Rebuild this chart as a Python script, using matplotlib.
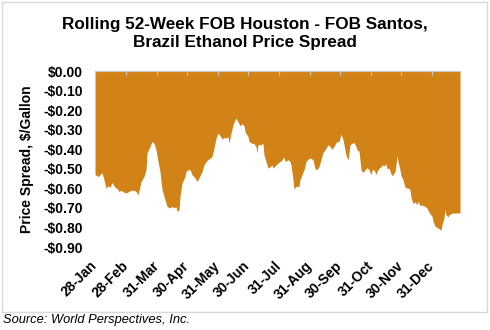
import numpy as np
import pandas as pd
import matplotlib
matplotlib.use('Agg')
import matplotlib.pyplot as plt
from matplotlib.patches import Rectangle

plt.rcParams['font.family'] = ['Liberation Sans', 'DejaVu Sans']

# days after 28-Jan and the spread in $/gallon
start = '2018-01-28'
days = [0, 3, 5, 7, 9, 11, 13, 15, 17, 20, 22, 24, 26, 29, 31, 34, 36, 39, 41, 43,
        45, 46, 49, 51, 52, 55, 57, 59, 61, 63, 65, 67, 70, 72, 75, 77, 79, 81, 82, 84,
        85, 87, 90, 91,
        93, 95, 97, 100, 102, 104, 107, 109, 112, 114, 117, 119, 121, 123, 125, 127, 129, 131, 133, 134,
        136, 138, 140, 141, 143, 145, 147, 149, 150, 153, 154, 157, 159, 161, 162, 163, 166, 168, 169, 171,
        173, 175, 177, 178, 181, 183,
        185, 187, 189, 190, 193, 195, 196, 198, 199, 201, 204, 205, 207, 209, 211, 214, 216, 218, 220, 222,
        224, 226, 228, 230, 233, 235, 237, 239, 241, 243, 244, 246, 248, 250, 251, 253, 254, 255, 257, 259,
        261, 262, 264, 266, 268, 270, 272, 274,
        276, 277, 279, 281, 282, 284, 286, 287, 289, 291, 292, 294, 296, 297, 298, 300, 301, 302, 303, 305,
        306, 308, 310, 311, 313, 315, 316, 318, 320, 322, 323, 325, 327, 328, 330, 332, 333, 335, 337, 338,
        340, 342, 344, 346, 347, 349, 350, 351, 353, 354, 356, 358, 365]
spread = [-0.53, -0.54, -0.53, -0.52, -0.556, -0.60, -0.587, -0.595, -0.57, -0.595, -0.60, -0.616, -0.61, -0.62, -0.624, -0.616, -0.61, -0.61, -0.616, -0.633,
          -0.59, -0.565, -0.54, -0.505, -0.42, -0.386, -0.36, -0.37, -0.403, -0.463, -0.514, -0.607, -0.658, -0.692, -0.70, -0.692, -0.70, -0.695, -0.718, -0.71,
          -0.64, -0.573, -0.54, -0.514,
          -0.505, -0.505, -0.53, -0.547, -0.565, -0.547, -0.514, -0.48, -0.457, -0.45, -0.437, -0.395, -0.343, -0.318, -0.33, -0.348, -0.34, -0.343, -0.335, -0.369,
          -0.318, -0.275, -0.25, -0.241, -0.26, -0.28, -0.27, -0.28, -0.31, -0.335, -0.36, -0.37, -0.372, -0.386, -0.42, -0.377, -0.377, -0.37, -0.43, -0.463,
          -0.497, -0.49, -0.48, -0.497, -0.48, -0.471,
          -0.463, -0.454, -0.44, -0.463, -0.454, -0.463, -0.48, -0.556, -0.604, -0.59, -0.59, -0.556, -0.53, -0.505, -0.463, -0.446, -0.446, -0.454, -0.50, -0.505,
          -0.488, -0.454, -0.416, -0.403, -0.378, -0.386, -0.40, -0.386, -0.366, -0.36, -0.36, -0.323, -0.35, -0.403, -0.43, -0.457, -0.42, -0.377, -0.37, -0.366,
          -0.386, -0.403, -0.41, -0.505, -0.519, -0.505, -0.494, -0.505,
          -0.53, -0.508, -0.505, -0.53, -0.514, -0.497, -0.49, -0.48, -0.485, -0.475, -0.50, -0.497, -0.525, -0.535, -0.53, -0.514, -0.48, -0.43, -0.463, -0.505,
          -0.535, -0.556, -0.593, -0.598, -0.598, -0.607, -0.645, -0.678, -0.67, -0.683, -0.666, -0.689, -0.683, -0.689, -0.692, -0.70, -0.713, -0.73, -0.743, -0.769,
          -0.794, -0.80, -0.806, -0.815, -0.786, -0.75, -0.709, -0.735, -0.746, -0.735, -0.73, -0.726, -0.726]

tick_dates = ['2018-01-28', '2018-02-28', '2018-03-31', '2018-04-30', '2018-05-31', '2018-06-30',
              '2018-07-31', '2018-08-31', '2018-09-30', '2018-10-31', '2018-11-30', '2018-12-31']
tick_labels = ['28-Jan', '28-Feb', '31-Mar', '30-Apr', '31-May', '30-Jun',
               '31-Jul', '31-Aug', '30-Sep', '31-Oct', '30-Nov', '31-Dec']
y_ticks = [0.0, -0.1, -0.2, -0.3, -0.4, -0.5, -0.6, -0.7, -0.8, -0.9]

dates = pd.to_datetime(start) + pd.to_timedelta(days, unit='D')

fig = plt.figure(figsize=(4.9, 3.3), dpi=100)
ax = fig.add_axes([95/490, 1-247/330, 365/490, 176/330])

ax.fill_between(dates, spread, 0, color='#D28317', linewidth=0)

ax.set_xlim(dates[0], dates[-1])
ax.set_ylim(-0.9, 0)

ax.set_yticks(y_ticks)
ax.set_yticklabels([('-$%.2f' % abs(v)) if v < 0 else '$%.2f' % abs(v) for v in y_ticks],
                   fontsize=10, fontweight='bold')
ax.tick_params(axis='y', length=0, pad=9)

ax.set_xticks(pd.to_datetime(tick_dates))
ax.set_xticklabels(tick_labels, rotation=45, ha='right', va='center',
                   rotation_mode='anchor', fontsize=10, fontweight='bold')
ax.tick_params(axis='x', bottom=False, top=True, labelbottom=True, labeltop=False,
               direction='in', length=3, color='#C8C8C8', pad=12)

for s in ['left', 'right', 'bottom']:
    ax.spines[s].set_visible(False)
ax.spines['top'].set_color('#C8C8C8')
ax.spines['top'].set_linewidth(0.8)

ax.set_ylabel('Price Spread, $/Gallon', fontsize=10, fontweight='bold')
ax.yaxis.set_label_coords(-0.168, 0.5)

fig.text(0.5, 1-33/330, 'Rolling 52-Week FOB Houston - FOB Santos,\nBrazil Ethanol Price Spread',
         ha='center', va='center', fontsize=12.3, fontweight='bold', linespacing=1.25)

fig.add_artist(Rectangle((2/490, 1-312/330), 485/490, 310/330, transform=fig.transFigure,
                         fill=False, edgecolor='#D9D9D9', linewidth=1))
fig.text(3/490, 1-320/330, 'Source: World Perspectives, Inc.', ha='left', va='center',
         fontsize=9.3, style='italic')

plt.savefig('out.png', dpi=100)
